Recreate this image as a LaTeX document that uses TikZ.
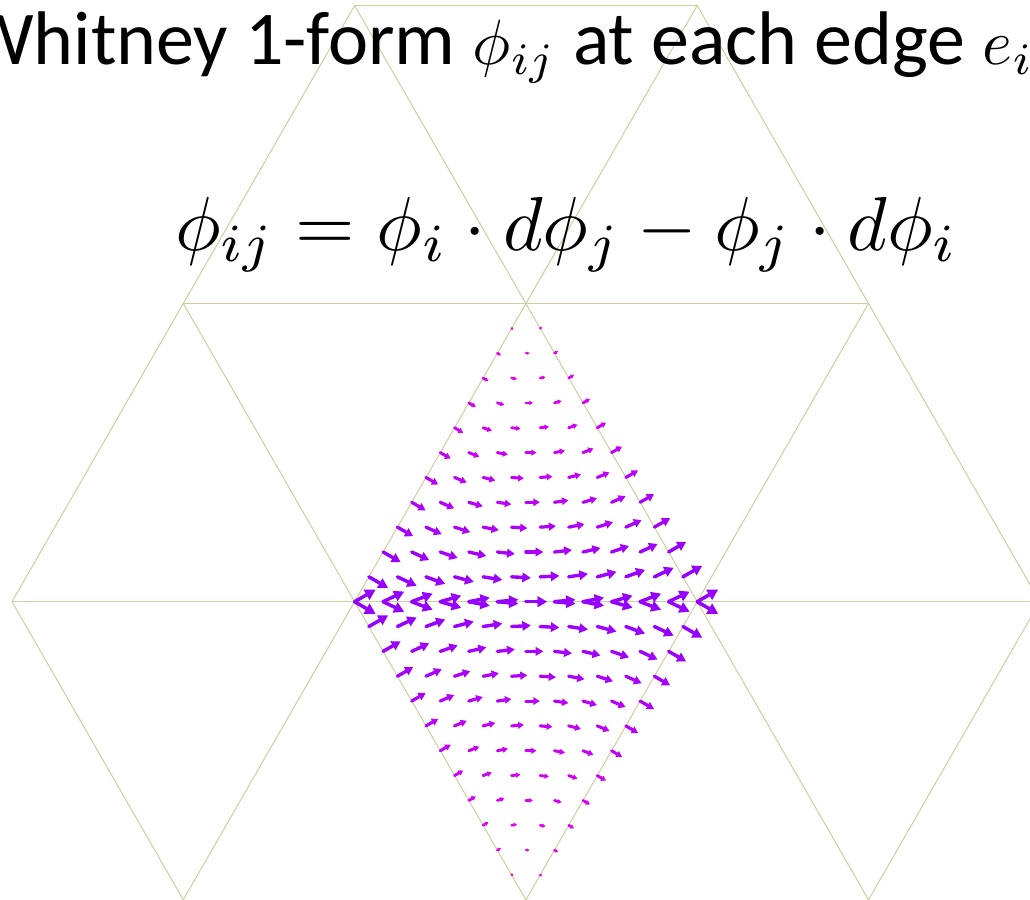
\documentclass[tikz,border=0pt]{standalone}
\usepackage{fontspec}
\setmainfont{Carlito}
\usetikzlibrary{arrows.meta}
\definecolor{meshc}{RGB}{208,206,160}
\definecolor{vio}{RGB}{150,0,255}
\definecolor{mag}{RGB}{255,0,235}
\newcommand{\bigmath}[1]{\scalebox{6.4}{\fontsize{10}{12}\selectfont$#1$}}
\begin{document}
\begin{tikzpicture}[x=1pt,y=-1pt,
  mesh/.style={draw=meshc,line width=1pt},
  titletext/.style={anchor=base west,inner sep=0pt,font=\fontsize{76}{86}\selectfont},
  formulatext/.style={anchor=base west,inner sep=0pt}]
\useasboundingbox (0,0) rectangle (1030,899);
\fill[white] (0,0) rectangle (1030,899);
\begin{scope}
\clip (0,0) rectangle (1030,899);
% mesh vertices
\coordinate (T1) at (354.6,5.5);
\coordinate (T2) at (697.2,5.5);
\coordinate (M1) at (183.3,303.5);
\coordinate (M2) at (525.9,303.5);
\coordinate (M3) at (868.5,303.5);
\coordinate (R1) at (12,601.7);
\coordinate (R2) at (354.6,601.7);
\coordinate (R3) at (697.2,601.7);
\coordinate (R4) at (1039.8,601.7);
\coordinate (B1) at (183.3,899.8);
\coordinate (B2) at (525.9,899.8);
\coordinate (B3) at (868.5,899.8);
\draw[mesh] (T1) -- (T2);
\draw[mesh] (M1) -- (T1) -- (M2) -- (T2) -- (M3);
\draw[mesh] (M1) -- (M3);
\draw[mesh] (R1) -- (M1) -- (R2) -- (M2) -- (R3) -- (M3) -- (R4);
\draw[mesh] (R1) -- (R4);
\draw[mesh] (R1) -- (B1) -- (R2) -- (B2) -- (R3) -- (B3) -- (R4);
\end{scope}
% Whitney 1-form vector field on the two triangles sharing edge R2-R3
\foreach \c in {0,...,11}{
  \pgfmathtruncatemacro\amax{12-\c}
  \foreach \a in {0,...,\amax}{
    \pgfmathsetmacro\li{\a/12}
    \pgfmathsetmacro\lj{(12-\c-\a)/12}
    \pgfmathsetmacro\lk{\c/12}
    \pgfmathsetmacro\s{\li+\lj}
    \pgfmathsetmacro\dy{(\li-\lj)/sqrt(3)}
    \pgfmathsetmacro\px{\li*354.6+\lj*697.2+\lk*525.9}
    \pgfmathsetmacro\pyU{(\li+\lj)*601.7+\lk*303.5}
    \pgfmathsetmacro\pyL{(\li+\lj)*601.7+\lk*899.8}
    \pgfmathsetmacro\m{sqrt(\s*\s+\dy*\dy)}
    \pgfmathtruncatemacro\t{min(100,\m/1.0*100)}
    \pgfmathsetmacro\L{21*\m}
    \pgfmathsetmacro\hl{0.40*\L+0.8}
    \pgfmathsetmacro\hw{0.40*\L+1.6}
    \pgfmathsetmacro\lw{2.4+1.1*\t/100}
    \draw[vio!\t!mag, line width=\lw pt, line cap=round,
          -{Triangle[length=\hl pt,width=\hw pt]}]
      (\px,\pyU) -- ++(21*\s,21*\dy);
    \draw[vio!\t!mag, line width=\lw pt, line cap=round,
          -{Triangle[length=\hl pt,width=\hw pt]}]
      (\px,\pyL) -- ++(21*\s,-21*\dy);
  }
}
\node[titletext] (title) at (-34,65) {Whitney 1-form \bigmath{\phi_{ij}} at each edge \bigmath{e_{ij}}};
\node[formulatext] (formula) at (175,250) {\resizebox{783pt}{!}{$\phi_{ij} = \phi_i\cdot d\phi_j - \phi_j\cdot d\phi_i$}};
\end{tikzpicture}
\end{document}
